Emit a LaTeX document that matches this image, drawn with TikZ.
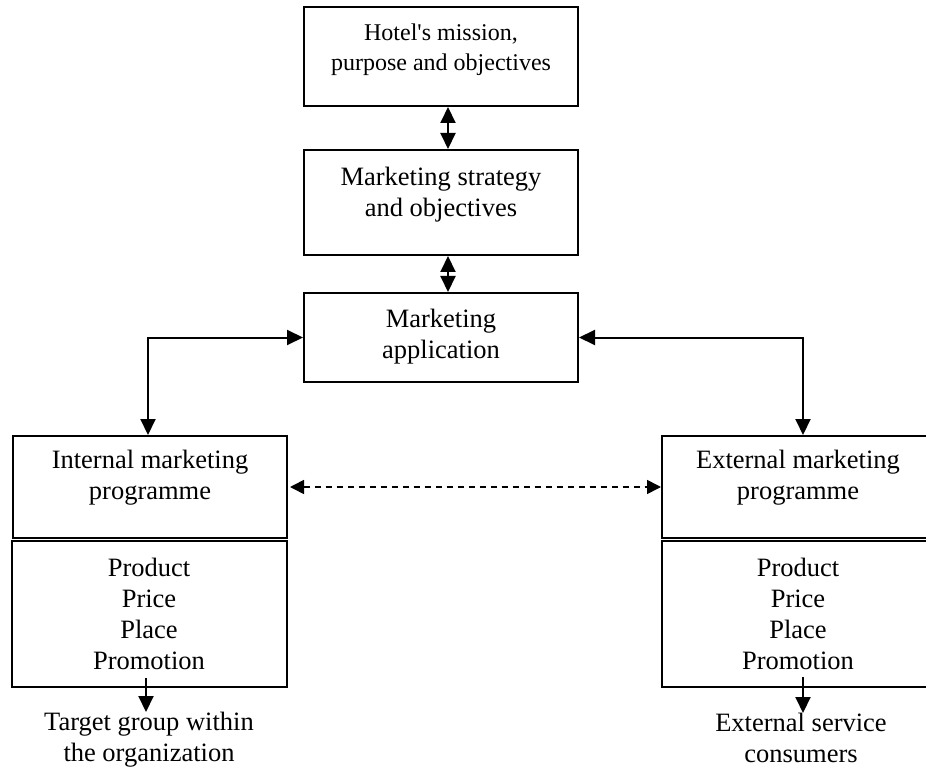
\documentclass[tikz,border=0pt]{standalone}
\usepackage{fontspec}
\setmainfont{Liberation Serif}
\usetikzlibrary{arrows.meta}
\tikzset{
  boxnode/.style={draw, line width=2pt, rectangle, inner sep=0pt},
  txt/.style={align=center, inner sep=0pt, font=\fontsize{26.5}{31}\selectfont},
  smalltxt/.style={align=center, inner sep=0pt, font=\fontsize{24}{30}\selectfont},
  arr/.style={line width=2pt, -{Triangle[length=16pt,width=15pt]}},
  darr/.style={line width=2pt, {Triangle[length=16pt,width=15pt]}-{Triangle[length=16pt,width=15pt]}},
  dasharr/.style={line width=1.6pt, dash pattern=on 6pt off 5pt, {Triangle[length=14pt,width=14pt]}-{Triangle[length=14pt,width=14pt]}}
}
\begin{document}
\begin{tikzpicture}[x=1pt,y=-1pt]
\useasboundingbox (0,0) rectangle (926,767);
\clip (0,0) rectangle (926,767);
% boxes
\node[boxnode, minimum width=274pt, minimum height=99pt] (b1) at (441,56.5) {};
\node[boxnode, minimum width=274pt, minimum height=105pt] (b2) at (441,202.5) {};
\node[boxnode, minimum width=274pt, minimum height=89pt] (b3) at (441,337.5) {};
\node[boxnode, minimum width=274pt, minimum height=102pt] (ib) at (150,487) {};
\node[boxnode, minimum width=275pt, minimum height=146pt] (ip) at (149.5,614) {};
\node[boxnode, minimum width=282pt, minimum height=102pt] (eb) at (803,487) {};
\node[boxnode, minimum width=282pt, minimum height=146pt] (ep) at (803,614) {};
% texts
\node[smalltxt] (t1) at (441,50) {Hotel\textquotesingle s mission,\\purpose and objectives};
\node[txt] (t2) at (441,195) {Marketing strategy\\and objectives};
\node[txt] (t3) at (441,337) {Marketing\\application};
\node[txt] (ti) at (150,478) {Internal marketing\\programme};
\node[txt] (tip) at (149,614) {Product\\Price\\Place\\Promotion};
\node[txt] (te) at (798,478) {External marketing\\programme};
\node[txt] (tep) at (798,614) {Product\\Price\\Place\\Promotion};
\node[txt, anchor=north] (tg) at (149,712) {Target group within\\the organization};
\node[txt, anchor=north] (tc) at (801,713) {External service\\consumers};
% connectors
\draw[darr] ([xshift=7pt]b1.south) -- ([xshift=7pt]b2.north);
\draw[darr] ([xshift=7pt]b2.south) -- ([xshift=7pt]b3.north);
\draw[darr] (b3.west) -| ([xshift=-2pt]ib.north);
\draw[darr] (b3.east) -| (eb.north);
\draw[dasharr] ([xshift=2pt]ib.east) -- (eb.west);
\coordinate (s1) at (146,678);
\coordinate (s2) at (803,677);
\draw[arr] (s1) -- (s1 |- tg.north);
\draw[arr] (s2) -- (s2 |- tc.north);
\end{tikzpicture}
\end{document}
